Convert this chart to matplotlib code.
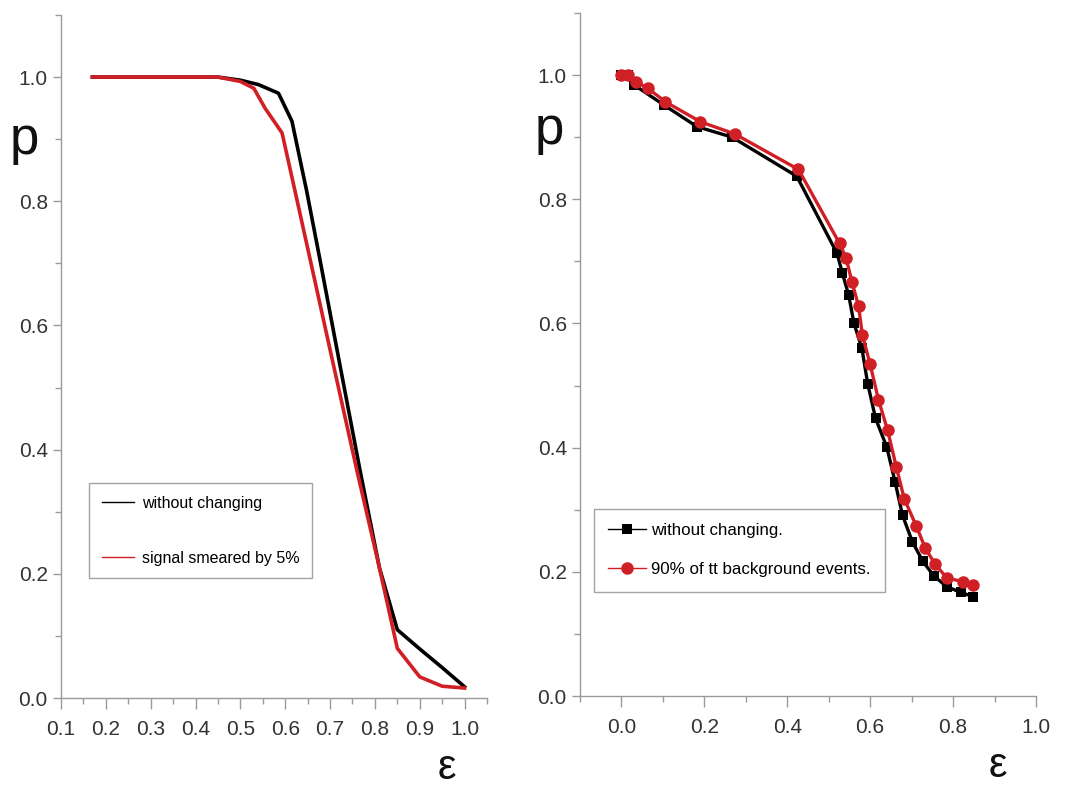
import matplotlib
matplotlib.use("Agg")
import matplotlib.pyplot as plt
from matplotlib.lines import Line2D
from matplotlib.ticker import MultipleLocator

plt.rcParams['font.family'] = ['Liberation Sans', 'DejaVu Sans']

# ---- Left panel data ----
left_x_black = [0.17, 0.2, 0.25, 0.3, 0.35, 0.4, 0.45, 0.5, 0.54, 0.585, 0.615,
                0.648, 0.678, 0.72, 0.767, 0.81, 0.85, 0.9, 0.95, 1.0]
left_y_black = [1.0, 1.0, 1.0, 1.0, 1.0, 1.0, 1.0, 0.995, 0.988, 0.974, 0.929,
                0.816, 0.704, 0.544, 0.366, 0.21, 0.11, 0.079, 0.049, 0.018]
left_x_red = [0.17, 0.2, 0.25, 0.3, 0.35, 0.4, 0.45, 0.5, 0.53, 0.555, 0.593,
              0.622, 0.66, 0.7, 0.76, 0.81, 0.85, 0.9, 0.95, 1.0]
left_y_red = [1.0, 1.0, 1.0, 1.0, 1.0, 1.0, 1.0, 0.993, 0.982, 0.95, 0.91,
              0.816, 0.692, 0.561, 0.366, 0.21, 0.08, 0.034, 0.019, 0.016]
left_labels = ["without changing", "signal smeared by 5%"]

# ---- Right panel data ----
right_x_black = [0.0, 0.015, 0.031, 0.102, 0.182, 0.267, 0.423, 0.520, 0.533, 0.548,
                 0.561, 0.580, 0.594, 0.613, 0.640, 0.660, 0.678, 0.702, 0.727,
                 0.754, 0.785, 0.818, 0.849]
right_y_black = [1.0, 1.0, 0.984, 0.952, 0.917, 0.900, 0.837, 0.713, 0.681, 0.646,
                 0.600, 0.560, 0.503, 0.447, 0.401, 0.345, 0.291, 0.248, 0.217,
                 0.193, 0.176, 0.167, 0.160]
right_x_red = [0.0, 0.015, 0.036, 0.063, 0.106, 0.190, 0.274, 0.427, 0.526, 0.542,
               0.556, 0.572, 0.581, 0.600, 0.620, 0.642, 0.663, 0.682, 0.711,
               0.733, 0.757, 0.785, 0.825, 0.849]
right_y_red = [1.0, 1.0, 0.989, 0.979, 0.957, 0.925, 0.905, 0.848, 0.729, 0.705,
               0.667, 0.628, 0.582, 0.534, 0.477, 0.428, 0.369, 0.318, 0.274,
               0.238, 0.212, 0.190, 0.184, 0.179]
right_labels = ["without changing.", "90% of tt background events."]

BLACK = "#000000"
RED = "#d11f26"
SPINE = "#9a9a9a"
TICKC = "#333333"

fig = plt.figure(figsize=(10.74, 7.94), dpi=100)
axL = fig.add_axes([61/1074, 1-698/794, (487-61)/1074, (698-15)/794])
axR = fig.add_axes([580/1074, 1-696/794, (1036-580)/1074, (696-13)/794])

for ax in (axL, axR):
    for s in ("top", "right"):
        ax.spines[s].set_visible(False)
    for s in ("left", "bottom"):
        ax.spines[s].set_color(SPINE)
        ax.spines[s].set_linewidth(1.0)
    ax.tick_params(which="both", direction="out", colors=SPINE, labelcolor=TICKC,
                   labelsize=15)
    ax.tick_params(which="major", length=6, width=1)
    ax.tick_params(which="minor", length=4, width=1)
    ax.set_ylim(0, 1.1)
    ax.yaxis.set_minor_locator(MultipleLocator(0.1))
    ax.set_yticks([0.0, 0.2, 0.4, 0.6, 0.8, 1.0])
    ax.set_yticklabels(["0.0", "0.2", "0.4", "0.6", "0.8", "1.0"])

# Left panel
axL.plot(left_x_black, left_y_black, color=BLACK, lw=2.6, solid_joinstyle="round")
axL.plot(left_x_red, left_y_red, color=RED, lw=2.6, solid_joinstyle="round")
axL.set_xlim(0.1, 1.05)
axL.set_xticks([0.1, 0.2, 0.3, 0.4, 0.5, 0.6, 0.7, 0.8, 0.9, 1.0])
axL.set_xticklabels(["0.1", "0.2", "0.3", "0.4", "0.5", "0.6", "0.7", "0.8", "0.9", "1.0"])
axL.xaxis.set_minor_locator(MultipleLocator(0.05))
axL.tick_params(axis="x", which="major", length=8, pad=8)
hL = [Line2D([], [], color=BLACK, lw=1.0), Line2D([], [], color=RED, lw=1.0)]
legL = axL.legend(hL, left_labels, loc="upper left",
                  bbox_to_anchor=(28/426, (698-483)/683),
                  fontsize=11.5, frameon=True, fancybox=False, edgecolor="#8c8c8c",
                  handlelength=2.0, handletextpad=0.5, borderpad=0.8, labelspacing=2.5,
                  borderaxespad=0)
legL.get_frame().set_linewidth(1.0)
fig.text(10/1074, 1-140/794, "p", fontsize=38, ha="left", va="center", color="#111111")
fig.text(447/1074, 1-768/794, "ε", fontsize=30, ha="center", va="center", color="#111111")

# Right panel
axR.plot(right_x_black, right_y_black, color=BLACK, lw=2.4, marker="s", ms=7,
         markeredgewidth=0)
axR.plot(right_x_red, right_y_red, color=RED, lw=2.4, marker="o", ms=9,
         markeredgewidth=0)
axR.set_xlim(-0.1, 1.0)
axR.set_xticks([0.0, 0.2, 0.4, 0.6, 0.8, 1.0])
axR.set_xticklabels(["0.0", "0.2", "0.4", "0.6", "0.8", "1.0"])
axR.xaxis.set_minor_locator(MultipleLocator(0.1))
axR.tick_params(axis="x", which="major", length=8, pad=8)
hR = [Line2D([], [], color=BLACK, lw=1.0, marker="s", ms=7, markeredgewidth=0),
      Line2D([], [], color=RED, lw=1.0, marker="o", ms=9, markeredgewidth=0)]
legR = axR.legend(hR, right_labels, loc="upper left",
                  bbox_to_anchor=(14/456, (696-509)/683),
                  fontsize=12.2, frameon=True, fancybox=False, edgecolor="#8c8c8c",
                  handlelength=2.2, handletextpad=0.3, borderpad=0.85, labelspacing=1.4,
                  borderaxespad=0)
legR.get_frame().set_linewidth(1.0)
fig.text(535/1074, 1-130/794, "p", fontsize=38, ha="left", va="center", color="#111111")
fig.text(998/1074, 1-766/794, "ε", fontsize=30, ha="center", va="center", color="#111111")

fig.savefig("out.png", dpi=100)
